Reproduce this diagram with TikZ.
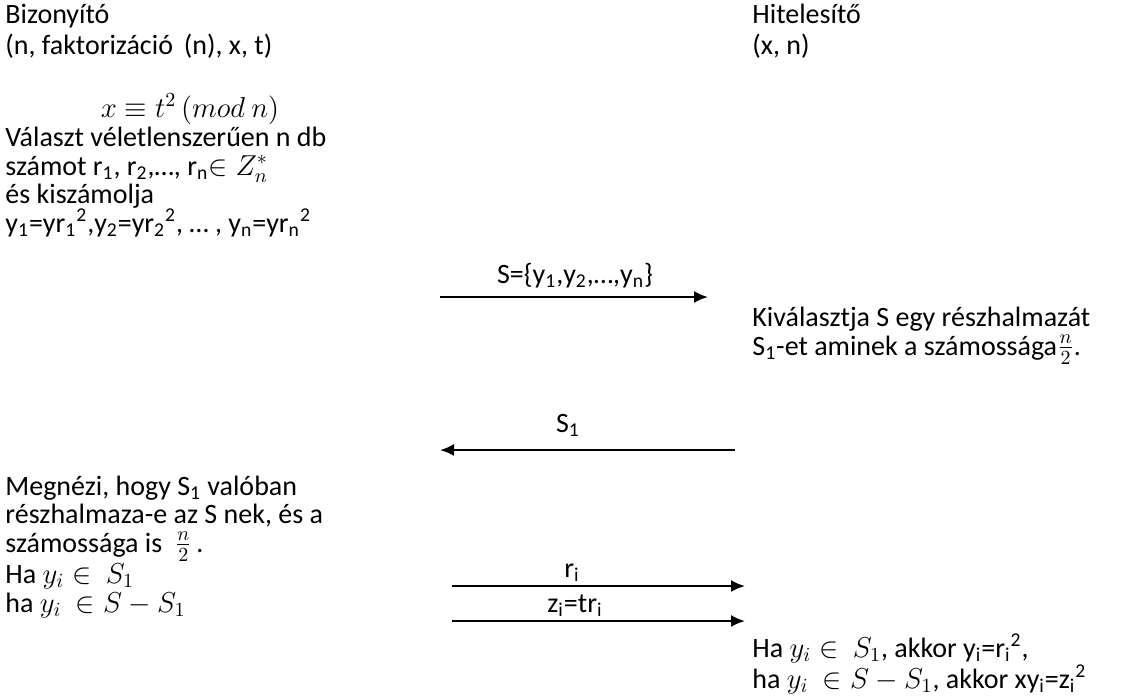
\documentclass[tikz,border=0pt]{standalone}
\usepackage{amsmath,amssymb}
\usepackage{fontspec}
\setmainfont{Carlito}
\usepackage{tikz}
\usetikzlibrary{arrows.meta,positioning,calc}

\begin{document}
\begin{tikzpicture}[x=0.5pt, y=-0.5pt, >={Latex[length=7pt,width=6pt]},
    txt/.style={anchor=base west, align=left, inner sep=0pt, font=\fontsize{14}{14.2}\selectfont},
    lbl/.style={anchor=base, inner sep=0pt, font=\fontsize{14}{14.2}\selectfont},
    msg/.style={->, line width=1pt}]
    % Frame
    \useasboundingbox (0,0) rectangle (1121,698);

    % Prover side (nodes are placed at the baseline of their last line)
    \node[txt] (prover) at (5,54) {Bizonyító\\[1.2pt](n, faktorizáció \,(n), x, t)};
    \node[lbl] (congr) at (190,117) {$x \equiv t^{2}\,(mod\ n)$};
    \node[txt] (choose) at (5,232) {Választ véletlenszerűen n db\\
        számot r\textsubscript{1}, r\textsubscript{2},…, r\textsubscript{n}$\in Z_n^{*}$\\
        és kiszámolja\\
        y\textsubscript{1}=yr\textsubscript{1}\textsuperscript{2},y\textsubscript{2}=yr\textsubscript{2}\textsuperscript{2}, … , y\textsubscript{n}=yr\textsubscript{n}\textsuperscript{2}};
    \node[txt] (check) at (5,612) {Megnézi, hogy S\textsubscript{1} valóban\\
        részhalmaza-e az S nek, és a\\
        számossága is \ $\frac{n}{2}$\,.\\
        Ha $y_i \in\ S_1$\\
        ha $y_i\ \in S - S_1$};

    % Verifier side
    \node[txt] (verifier) at (752,54) {Hitelesítő\\[1.2pt](x, n)};
    \node[txt] (select) at (752,355) {Kiválasztja S egy részhalmazát\\
        S\textsubscript{1}-et aminek a számossága$\frac{n}{2}$.};
    \node[txt] (verify) at (752,688) {Ha $y_i \in\ S_1$, akkor y\textsubscript{i}=r\textsubscript{i}\textsuperscript{2},\\
        ha $y_i\ \in S - S_1$, akkor xy\textsubscript{i}=z\textsubscript{i}\textsuperscript{2}};

    % Messages
    \coordinate (m1a) at (440,297);  \coordinate (m1b) at (708,297);
    \coordinate (m2a) at (735,450);  \coordinate (m2b) at (440,450);
    \coordinate (m3a) at (452,586);  \coordinate (m3b) at (745,586);
    \coordinate (m4a) at (452,621);  \coordinate (m4b) at (745,621);
    \draw[msg] (m1a) -- (m1b);
    \draw[msg] (m2a) -- (m2b);
    \draw[msg] (m3a) -- (m3b);
    \draw[msg] (m4a) -- (m4b);
    \node[lbl] (setS) at (575,283) {S=\{y\textsubscript{1},y\textsubscript{2},…,y\textsubscript{n}\}};
    \node[lbl] (subS) at (568,432) {S\textsubscript{1}};
    \node[lbl] (ri) at (572,577) {r\textsubscript{i}};
    \node[lbl] (zi) at (575,612) {z\textsubscript{i}=tr\textsubscript{i}};
\end{tikzpicture}
\end{document}
